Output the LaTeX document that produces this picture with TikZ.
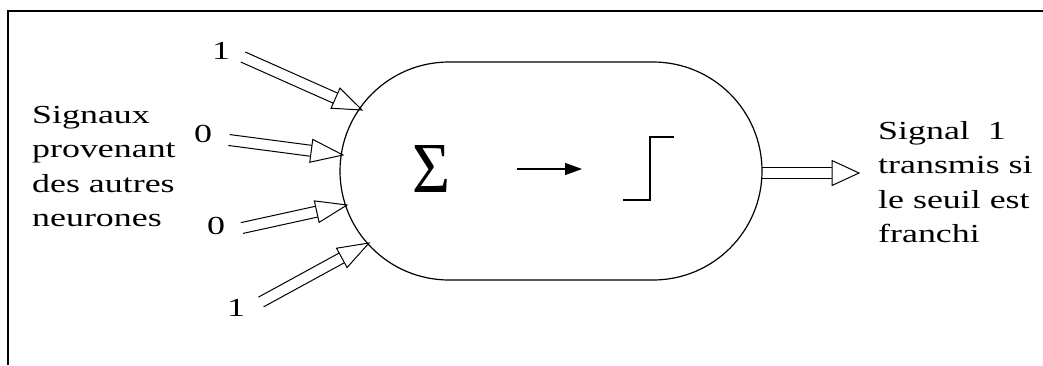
\documentclass[tikz,border=0pt]{standalone}
\usepackage{fontspec}
\setmainfont{Liberation Serif}
\newfontfamily\wfont[FakeStretch=1.38]{Liberation Serif}
\usetikzlibrary{calc,arrows.meta,shapes.misc}
\tikzset{
  txt/.style={font=\wfont\fontsize{26}{34.5}\selectfont, inner sep=0pt},
  frame/.style={line width=2.5pt},
  body/.style={draw, line width=1.2pt, rounded rectangle, inner sep=0pt},
  fine/.style={line width=1pt},
  stepline/.style={line width=1.3pt},
}
\newcommand{\dblarr}[4]{% start, tip, head length, head half-width
  \coordinate (hb) at ($(#2)!#3!(#1)$);
  \draw[fine] ($(#1)!5.5pt!90:(#2)$) -- ($(hb)!5.5pt!90:(#2)$);
  \draw[fine] ($(#1)!5.5pt!-90:(#2)$) -- ($(hb)!5.5pt!-90:(#2)$);
  \draw[fine, line join=miter] ($(hb)!#4!90:(#2)$) -- (#2) -- ($(hb)!#4!-90:(#2)$) -- cycle;
}
\begin{document}
\begin{tikzpicture}[x=1pt,y=-1pt]
\fill[white] (0,0) rectangle (1043,365);
\useasboundingbox (0,0) rectangle (1043,365);
\draw[frame] (8,365) -- (8,11) -- (1043,11);

% neuron body
\node[body, minimum width=422pt, minimum height=218pt] (neuron) at (551,171) {};

% sum, arrow, step
\node[inner sep=0pt] (sigma) at (431,168.5) {\resizebox{38pt}{47pt}{Σ}};
\coordinate (a1) at (517,169);
\coordinate (a2) at (582,169);
\draw[line width=1.2pt, -{Triangle[length=17pt,width=12pt]}] (a1) -- (a2);
\coordinate (st1) at (623,200);
\coordinate (st2) at (650,200);
\coordinate (st3) at (650,137);
\coordinate (st4) at (674,137);
\draw[stepline] (st1) -- (st2) -- (st3) -- (st4);

% inputs
\node[txt, anchor=center] (i1) at (221,51) {1};
\node[txt, anchor=center] (i2) at (203,134) {0};
\node[txt, anchor=center] (i3) at (216,226) {0};
\node[txt, anchor=center] (i4) at (236,308) {1};
\coordinate (s1) at (243,57);
\coordinate (t1) at (362,110);
\coordinate (s2) at (229,140);
\coordinate (t2) at (343,155);
\coordinate (s3) at (242,228);
\coordinate (t3) at (347,205);
\coordinate (s4) at (261,302);
\coordinate (t4) at (369,243);
\dblarr{s1}{t1}{29pt}{11pt}
\dblarr{s2}{t2}{32pt}{11.5pt}
\dblarr{s3}{t3}{31pt}{11pt}
\dblarr{s4}{t4}{31pt}{11pt}

% output
\coordinate (o1) at (762,173);
\coordinate (o2) at (859,173);
\dblarr{o1}{o2}{27pt}{12.5pt}

% texts
\node[txt, anchor=base west] (intext) at (32,123)
  {\vtop{\hbox{Signaux}\hbox{provenant}\hbox{des autres}\hbox{neurones}}};
\node[txt, anchor=base west] (outtext) at (878,139)
  {\vtop{\hbox{Signal\ \ 1}\hbox{transmis si}\hbox{le seuil est}\hbox{franchi}}};
\end{tikzpicture}
\end{document}
